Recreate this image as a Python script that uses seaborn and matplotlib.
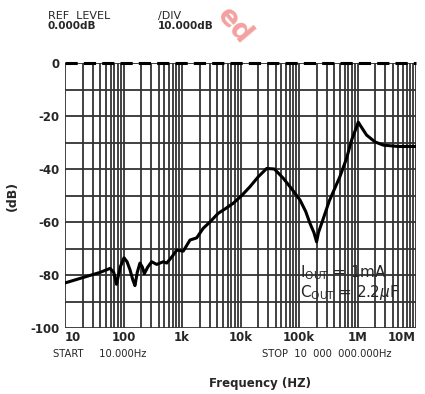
import matplotlib
matplotlib.use("Agg")
import matplotlib.pyplot as plt
import matplotlib.ticker as mticker
import seaborn as sns
import pandas as pd

# frequency response
freq_hz = [10, 20, 40, 59, 68, 76, 88, 102, 115, 129, 145, 157, 172, 191, 210,
           227, 260, 303, 369, 479, 548, 680, 813, 1050, 1370, 1780, 2300,
           3000, 4170, 5500, 7540, 10500, 14500, 20000, 28000, 38000, 53900,
           75000, 104000, 130000, 154000, 180000, 200000, 215000, 244000,
           330000, 500000, 650000, 795000, 950000, 1030000, 1150000, 1430000,
           2000000, 2770000, 5000000, 10000000]
gain_db = [-83, -81, -79, -77.5, -79, -83.5, -77, -73.5, -75, -78, -82, -84,
           -79, -75.5, -77, -79.5, -77, -75, -76, -75, -75.5, -73, -70.6,
           -71, -66.8, -66, -62.4, -60, -56.7, -55, -52.9, -50, -46.7, -43,
           -39.8, -40, -43.5, -47.5, -51.7, -56, -60.5, -64, -67.5, -64,
           -60.5, -52, -42.9, -36, -29, -24.5, -22.3, -24, -27.2, -29.8, -31,
           -31.5, -31.5]

x_ticks = [10, 100, 1e3, 1e4, 1e5, 1e6, 1e7]
x_tick_labels = ["10", "100", "1k", "10k", "100k", "1M", "10M"]
y_ticks = [0, -20, -40, -60, -80, -100]

df = pd.DataFrame({"freq": freq_hz, "gain": gain_db})

sns.set_style("white")
plt.rcParams["axes.unicode_minus"] = False
fig = plt.figure(figsize=(4.25, 3.94), dpi=100)
ax = fig.add_axes([65 / 425, 1 - 328 / 394, 351 / 425, 265 / 394])

sns.lineplot(data=df, x="freq", y="gain", ax=ax, color="black", lw=2.2)
ax.set_xscale("log")
ax.set_xlim(10, 1e7)
ax.set_ylim(-100, 0)

ax.xaxis.set_minor_locator(mticker.LogLocator(base=10, subs=range(2, 10)))
ax.yaxis.set_major_locator(mticker.MultipleLocator(20))
ax.yaxis.set_minor_locator(mticker.MultipleLocator(10))
ax.grid(True, which="both", color="#333333", lw=1.3)
ax.axhline(0, color="black", lw=2.2, ls=(0, (4, 2)), clip_on=False, zorder=5)
for s in ax.spines.values():
    s.set_visible(False)

ax.set_xticks(x_ticks)
ax.set_xticklabels(x_tick_labels)
ax.set_yticks(y_ticks)
ax.tick_params(which="both", length=0, labelsize=8.5)
ax.tick_params(axis="x", pad=2)
ax.tick_params(axis="y", pad=4)
for t in ax.get_xticklabels() + ax.get_yticklabels():
    t.set_fontweight("bold")
ax.get_xticklabels()[-1].set_horizontalalignment("right")
ax.get_xticklabels()[0].set_horizontalalignment("left")
ax.set_xlabel("")
ax.set_ylabel("(dB)", fontsize=9, fontweight="bold", labelpad=8)

fig.text(48 / 425, 1 - 16 / 394, "REF  LEVEL", fontsize=8, va="center")
fig.text(48 / 425, 1 - 26 / 394, "0.000dB", fontsize=7.5, fontweight="bold", va="center")
fig.text(158 / 425, 1 - 16 / 394, "/DIV", fontsize=8, va="center")
fig.text(158 / 425, 1 - 26 / 394, "10.000dB", fontsize=7.5, fontweight="bold", va="center")
fig.text(234 / 425, 1 - 26 / 394, "ed", fontsize=20, fontweight="bold",
         color="#f08080", alpha=0.75, rotation=-50, ha="center", va="center")

fig.text(53 / 425, 1 - 354 / 394, "START     10.000Hz", fontsize=7.2, va="center")
fig.text(262 / 425, 1 - 354 / 394, "STOP  10  000  000.000Hz", fontsize=7.2, va="center")
fig.text(260 / 425, 1 - 383 / 394, "Frequency (HZ)", fontsize=8.5,
         fontweight="bold", ha="center", va="center")

ax.text(1.05e5, -79, r"I$_{\mathrm{OUT}}$ = 1mA", fontsize=11, va="center", zorder=6)
ax.text(1.05e5, -86.5, r"C$_{\mathrm{OUT}}$ = 2.2$\mu$F", fontsize=11, va="center", zorder=6)

fig.savefig("out.png", dpi=100)
